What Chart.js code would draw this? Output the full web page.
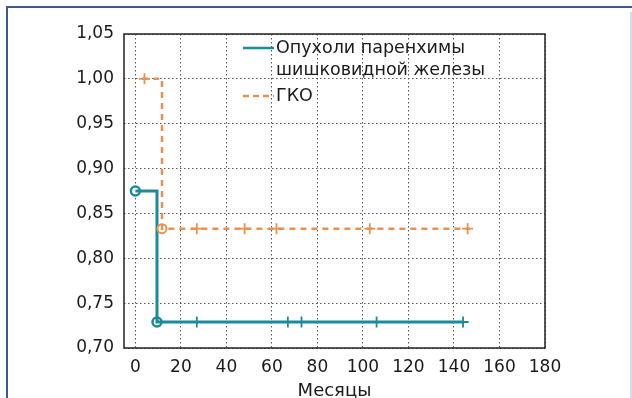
<!DOCTYPE html>
<html>
<head>
<meta charset="utf-8">
<script src="https://cdn.jsdelivr.net/npm/chart.js@4.4.0/dist/chart.umd.min.js"></script>
<style>
  html, body { margin: 0; padding: 0; background: #ffffff; }
  #wrap { position: relative; width: 632px; height: 398px; overflow: hidden; }
  #frame { position: absolute; left: 6px; top: 6px; width: 640px; height: 400px;
           border-left: 2px solid #3b5b8e; border-top: 2px solid #3b5b8e; box-sizing: border-box; }
  #edge { position: absolute; left: 630px; top: 12px; width: 2px; height: 386px; background: #d3dcf0; }
  canvas { position: absolute; left: 0; top: 0; }
</style>
</head>
<body>
<div id="wrap">
  <div id="frame"></div>
  <div id="edge"></div>
  <canvas id="c" width="632" height="398"></canvas>
</div>
<script>
// Kaplan–Meier curves, survival proportion vs months
const xTicks = [0, 20, 40, 60, 80, 100, 120, 140, 160, 180];
const yTicks = [0.70, 0.75, 0.80, 0.85, 0.90, 0.95, 1.00, 1.05];

// Pineal parenchymal tumours: step curve, events, censored cases
const tumorStepMonths = [0, 9.5, 9.5, 144];
const tumorStepSurv   = [0.875, 0.875, 0.729, 0.729];
const tumorEventMonths = [0, 9.5];
const tumorEventSurv   = [0.875, 0.729];
const tumorCensorMonths = [27, 67, 73, 106, 144];
const tumorCensorSurv   = [0.729, 0.729, 0.729, 0.729, 0.729];

// Germ-cell tumours (ГКО)
const gkoStepMonths = [3, 11.7, 11.7, 147];
const gkoStepSurv   = [1.0, 1.0, 0.833, 0.833];
const gkoEventMonths = [11.7];
const gkoEventSurv   = [0.833];
const gkoCensorMonths = [4, 27, 48, 62, 103, 146];
const gkoCensorSurv   = [1.0, 0.833, 0.833, 0.833, 0.833, 0.833];

const TEAL = '#1b8b9b';
const ORANGE = '#ea9050';
const FONT = '"DejaVu Sans", sans-serif';
const INK = '#1a1a1a';

const pts = (xs, ys) => xs.map((x, i) => ({ x: x, y: ys[i] }));

const legendItems = [
  { lines: ['Опухоли паренхимы', 'шишковидной железы'], color: TEAL, dash: [], width: 2.5 },
  { lines: ['ГКО'], color: ORANGE, dash: [6, 4], width: 2.5 }
];

const legendPlugin = {
  id: 'innerLegend',
  afterDatasetsDraw(chart) {
    const ctx = chart.ctx;
    const ca = chart.chartArea;
    let y = ca.top + 14;
    const x0 = ca.left + 119, x1 = ca.left + 150;
    ctx.save();
    ctx.font = '17.5px ' + FONT;
    ctx.textBaseline = 'middle';
    ctx.textAlign = 'left';
    legendItems.forEach(it => {
      ctx.strokeStyle = it.color;
      ctx.lineWidth = it.width;
      ctx.setLineDash(it.dash);
      ctx.beginPath();
      ctx.moveTo(x0, y);
      ctx.lineTo(x1, y);
      ctx.stroke();
      ctx.setLineDash([]);
      ctx.fillStyle = INK;
      it.lines.forEach((t, k) => ctx.fillText(t, x1 + 2, y + k * 22));
      y += it.lines.length * 22 + 4;
    });
    ctx.restore();
  }
};

const plotBorder = {
  id: 'plotBorder',
  afterDraw(chart) {
    const ctx = chart.ctx, ca = chart.chartArea;
    ctx.save();
    ctx.strokeStyle = '#222';
    ctx.lineWidth = 1.5;
    ctx.strokeRect(ca.left, ca.top, ca.right - ca.left, ca.bottom - ca.top);
    ctx.restore();
  }
};

new Chart(document.getElementById('c'), {
  type: 'line',
  data: {
    datasets: [
      { data: pts(gkoStepMonths, gkoStepSurv), borderColor: ORANGE, borderWidth: 2.5,
        borderDash: [6, 5], pointRadius: 0, fill: false, tension: 0 },
      { data: pts(gkoCensorMonths, gkoCensorSurv), showLine: false, pointStyle: 'cross',
        pointRadius: 5.5, borderColor: ORANGE, borderWidth: 1.8 },
      { data: pts(gkoEventMonths, gkoEventSurv), showLine: false, pointStyle: 'circle',
        pointRadius: 4.5, borderColor: ORANGE, backgroundColor: '#fff', borderWidth: 2 },
      { data: pts(tumorStepMonths, tumorStepSurv), borderColor: TEAL, borderWidth: 3,
        pointRadius: 0, fill: false, tension: 0 },
      { data: pts(tumorCensorMonths, tumorCensorSurv), showLine: false, pointStyle: 'cross',
        pointRadius: 5.5, borderColor: TEAL, borderWidth: 1.8 },
      { data: pts(tumorEventMonths, tumorEventSurv), showLine: false, pointStyle: 'circle',
        pointRadius: 4.5, borderColor: TEAL, backgroundColor: '#fff', borderWidth: 2.5 }
    ]
  },
  options: {
    responsive: false,
    animation: false,
    layout: { padding: { left: 0, top: 34, right: 87, bottom: 0 } },
    plugins: { legend: { display: false }, tooltip: { enabled: false } },
    scales: {
      x: {
        type: 'linear', min: -5, max: 180,
        afterBuildTicks: s => { s.ticks = xTicks.map(v => ({ value: v })); },
        afterFit: s => { s.height = 50; },
        border: { display: false, dash: [1.5, 2.5] },
        grid: { color: '#555', lineWidth: 1, tickLength: 0 },
        ticks: { color: INK, font: { family: FONT, size: 17 }, padding: 9, maxRotation: 0 },
        title: { display: true, text: 'Месяцы', color: INK, font: { family: FONT, size: 18 }, padding: { top: 0, bottom: -4 } }
      },
      y: {
        type: 'linear', min: 0.70, max: 1.05,
        afterBuildTicks: s => { s.ticks = yTicks.map(v => ({ value: v })); },
        afterFit: s => { s.width = 124; },
        border: { display: false, dash: [1.5, 2.5] },
        grid: { color: '#555', lineWidth: 1, tickLength: 0 },
        ticks: { color: INK, font: { family: FONT, size: 17 }, padding: 10,
                 callback: v => v.toFixed(2).replace('.', ',') }
      }
    }
  },
  plugins: [legendPlugin, plotBorder]
});
</script>
</body>
</html>
